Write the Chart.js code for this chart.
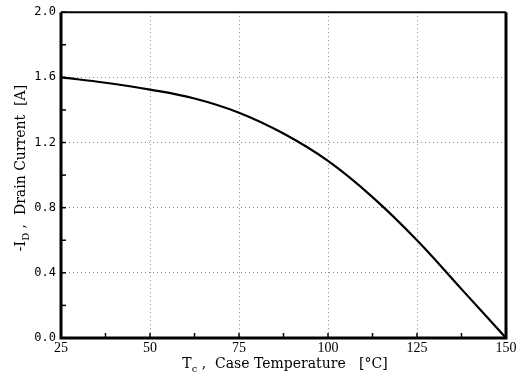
<!DOCTYPE html>
<html>
<head>
<meta charset="utf-8">
<script src="https://cdn.jsdelivr.net/npm/chart.js@4"></script>
<style>
  html, body { margin: 0; padding: 0; background: #fff; }
  #wrap { width: 528px; height: 386px; }
</style>
</head>
<body>
<div id="wrap"><canvas id="chart" width="528" height="386"></canvas></div>
<script>
// case temperature (°C) and drain current (A)
const caseTemp = [25, 37.5, 50, 62.5, 75, 87.5, 100, 112.5, 125, 137.5, 150];
const drainCurrent = [1.60, 1.567, 1.525, 1.47, 1.383, 1.255, 1.087, 0.865, 0.60, 0.30, 0.0];

// axis ticks
const xMajor = [25, 50, 75, 100, 125, 150];
const xMinor = [37.5, 62.5, 87.5, 112.5, 137.5];
const yMajor = [0.0, 0.4, 0.8, 1.2, 1.6, 2.0];
const yMinor = [0.2, 0.6, 1.0, 1.4, 1.8];

const TITLE_FONT = '"DejaVu Serif"';

// draws the frame, the inward tick marks and the two axis titles (with subscripts)
const framePlugin = {
    id: 'frame',
    afterDraw(chart) {
        const ctx = chart.ctx;
        const a = chart.chartArea;
        const xs = chart.scales.x, ys = chart.scales.y;
        ctx.save();
        ctx.strokeStyle = '#000';

        // tick marks pointing into the plot
        ctx.lineWidth = 1.5;
        xMajor.concat(xMinor).forEach(v => {
            const px = xs.getPixelForValue(v);
            ctx.beginPath();
            ctx.moveTo(px, a.bottom);
            ctx.lineTo(px, a.bottom - 5);
            ctx.stroke();
        });
        yMajor.concat(yMinor).forEach(v => {
            const py = ys.getPixelForValue(v);
            ctx.beginPath();
            ctx.moveTo(a.left, py);
            ctx.lineTo(a.left + 5, py);
            ctx.stroke();
        });

        // box
        ctx.lineWidth = 3;
        ctx.beginPath();
        ctx.moveTo(a.left, a.top);
        ctx.lineTo(a.left, a.bottom);
        ctx.lineTo(a.right, a.bottom);
        ctx.lineTo(a.right, a.top);
        ctx.stroke();
        ctx.lineWidth = 2;
        ctx.beginPath();
        ctx.moveTo(a.left, a.top);
        ctx.lineTo(a.right, a.top);
        ctx.stroke();

        ctx.fillStyle = '#000';
        ctx.textBaseline = 'alphabetic';
        ctx.textAlign = 'left';

        const setFont = p => { ctx.font = (p.sub ? '10px ' : '14px ') + TITLE_FONT; };
        const drawParts = (parts, x, y) => {
            let cx = x;
            parts.forEach(p => {
                setFont(p);
                ctx.fillText(p.t, cx, y + (p.sub ? 4 : 0));
                cx += ctx.measureText(p.t).width;
            });
        };
        const measureParts = parts => parts.reduce((w, p) => {
            setFont(p);
            return w + ctx.measureText(p.t).width;
        }, 0);

        // x title: T_c , Case Temperature  [°C]
        const xParts = [{ t: 'T' }, { t: 'c', sub: true }, { t: ' ,  Case Temperature   [°C]' }];
        const xw = measureParts(xParts);
        drawParts(xParts, 285 - xw / 2, 368);

        // y title, rotated: -I_D , Drain Current  [A]
        const yParts = [{ t: '-I' }, { t: 'D', sub: true }, { t: ' ,  Drain Current  [A]' }];
        const yw = measureParts(yParts);
        ctx.translate(25, 168 + yw / 2);
        ctx.rotate(-Math.PI / 2);
        drawParts(yParts, 0, 0);
        ctx.restore();
    }
};

new Chart(document.getElementById('chart'), {
    type: 'line',
    data: {
        datasets: [{
            data: caseTemp.map((t, i) => ({ x: t, y: drainCurrent[i] })),
            borderColor: '#000',
            borderWidth: 2.2,
            pointRadius: 0,
            fill: false,
            tension: 0.4
        }]
    },
    options: {
        responsive: false,
        animation: false,
        layout: { padding: { left: 0, top: 12, right: 22, bottom: 0 } },
        plugins: {
            legend: { display: false },
            tooltip: { enabled: false }
        },
        scales: {
            x: {
                type: 'linear',
                min: 25,
                max: 150,
                afterFit: s => { s.height = 48; },
                ticks: {
                    stepSize: 25,
                    color: '#000',
                    font: { family: 'Liberation Serif', size: 14 },
                    padding: 2,
                    maxRotation: 0
                },
                grid: {
                    color: '#888',
                    lineWidth: 1,
                    drawTicks: false
                },
                border: { display: false, dash: [1, 3] }
            },
            y: {
                min: 0,
                max: 2,
                afterFit: s => { s.width = 61; },
                ticks: {
                    stepSize: 0.4,
                    color: '#000',
                    font: { family: 'DejaVu Sans Mono', size: 12 },
                    padding: 5,
                    callback: v => v.toFixed(1)
                },
                grid: {
                    color: '#888',
                    lineWidth: 1,
                    drawTicks: false
                },
                border: { display: false, dash: [1, 3] }
            }
        }
    },
    plugins: [framePlugin]
});
</script>
</body>
</html>
